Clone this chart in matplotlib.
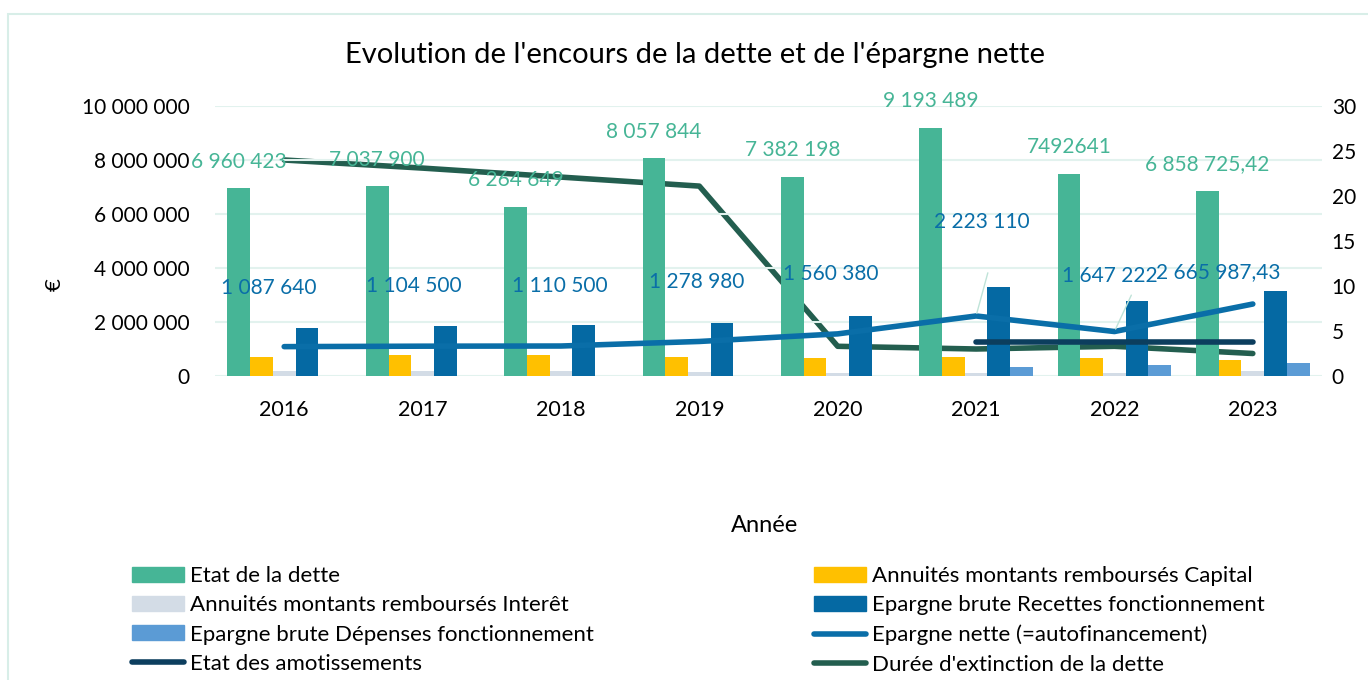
import matplotlib as mpl
from matplotlib import pyplot as plt
from matplotlib.lines import Line2D
from matplotlib.patches import Patch, Rectangle
import numpy as np

plt.rcParams['font.family'] = ['Lato', 'DejaVu Sans']

# %%
annees = ['2016', '2017', '2018', '2019', '2020', '2021', '2022', '2023']

# valeurs telles qu'affichées dans les étiquettes
dette_lbl = ['6 960 423', '7 037 900', '6 264 649', '8 057 844',
             '7 382 198', '9 193 489', '7492641', '6 858 725,42']
nette_lbl = ['1 087 640', '1 104 500', '1 110 500', '1 278 980',
             '1 560 380', '2 223 110', '1 647 222', '2 665 987,43']

capital = [712000, 760000, 785000, 712000, 650000, 690000, 675000, 610000]
interet = [184000, 184000, 170000, 160000, 125000, 125000, 125000, 190000]
recettes = [1790000, 1840000, 1880000, 1975000, 2210000, 3300000, 2790000, 3160000]
depenses = [0, 0, 0, 0, 0, 350000, 425000, 475000]

amortissements = [None, None, None, None, None, 1260000, 1260000, 1260000]
duree = [24.0, 23.1, 22.1, 21.1, 3.3, 3.0, 3.3, 2.5]


def num(s):
    return float(s.replace(' ', '').replace(',', '.'))

dette = [num(s) for s in dette_lbl]
nette = [num(s) for s in nette_lbl]

# %%
cVert = '#46B596'
cJaune = '#FFC000'
cGris = '#D3DCE6'
cBleu = '#0569A3'
cBleuClair = '#5B9BD5'
cNette = '#0A6EA8'
cAmort = '#0C3E5E'
cDuree = '#235E4F'
cGrille = '#E2F2EE'

fig = plt.figure(figsize=(13.68, 6.8), dpi=100)
ax = fig.add_axes([215 / 1368, 1 - 376 / 680, 1107 / 1368, 270 / 680])
ax2 = ax.twinx()

x = np.arange(len(annees))
w = 0.164
series = [(dette, cVert), (capital, cJaune), (interet, cGris),
          (recettes, cBleu), (depenses, cBleuClair)]
for i, (vals, col) in enumerate(series):
    ax.bar(x + (i - 2) * w, vals, w, color=col, zorder=3)

ax.plot(x, nette, color=cNette, lw=4, solid_capstyle='round', zorder=4)
am = np.array([np.nan if v is None else v for v in amortissements], dtype=float)
ax.plot(x, am, color=cAmort, lw=4, solid_capstyle='round', zorder=4)
ax2.plot(x, duree, color=cDuree, lw=4, solid_capstyle='round', zorder=4)

ax.set_xlim(-0.5, len(annees) - 0.5)
ax.set_ylim(0, 10000000)
ax2.set_ylim(0, 30)
ax.set_yticks(np.arange(0, 10000001, 2000000))
ax.set_yticklabels(['0' if v == 0 else '{:,}'.format(v).replace(',', ' ')
                    for v in range(0, 10000001, 2000000)])
ax2.set_yticks(np.arange(0, 31, 5))
ax.set_xticks(x)
ax.set_xticklabels(annees)

for a in (ax, ax2):
    for s in a.spines.values():
        s.set_visible(False)
    a.tick_params(length=0, labelsize=15, colors='black')
ax.tick_params(axis='y', pad=18)
ax.tick_params(axis='x', pad=17, labelsize=15.5)
ax2.tick_params(axis='y', pad=7)
ax.grid(axis='y', color=cGrille, lw=1.5, zorder=0)
ax.set_axisbelow(True)
ax2.set_zorder(ax.get_zorder() - 1)
ax.patch.set_visible(False)

# étiquettes de l'état de la dette
for i, v in enumerate(dette):
    ax.annotate(dette_lbl[i], xy=(x[i] - 2 * w, v), xytext=(0, 19),
                textcoords='offset points', ha='center', va='center',
                color=cVert, fontsize=15, zorder=6)

# étiquettes de l'épargne nette
decal = [(-11, 42), (-6, 43), (-1, 43), (-2, 43), (-5, 43), (4, 68), (-3, 40), (-25, 23)]
for i, v in enumerate(nette):
    dx, dy = decal[i]
    ax.annotate(nette_lbl[i], xy=(x[i], v), xytext=(dx, dy),
                textcoords='offset points', ha='center', va='center',
                color=cNette, fontsize=15, zorder=6)
for i, (dx, dy) in [(5, (9, 33)), (6, (13, 28))]:
    ax.annotate('', xy=(x[i], nette[i]), xytext=(dx, dy), textcoords='offset points',
                arrowprops=dict(arrowstyle='-', color='#BFE3D8', lw=1), zorder=5)

fig.text(695 / 1368, 1 - 55 / 680, "Evolution de l'encours de la dette et de l'épargne nette",
         ha='center', va='center', fontsize=21)
fig.text(55 / 1368, 1 - 285 / 680, '€', ha='center', va='center', rotation=90, fontsize=16)
fig.text(765 / 1368, 1 - 525 / 680, 'Année', ha='center', va='center', fontsize=17)

# légende sur deux colonnes
h = {
    'Etat de la dette': Patch(color=cVert),
    'Annuités montants remboursés Capital': Patch(color=cJaune),
    'Annuités montants remboursés Interêt': Patch(color=cGris),
    'Epargne brute Recettes fonctionnement': Patch(color=cBleu),
    'Epargne brute Dépenses fonctionnement': Patch(color=cBleuClair),
    'Epargne nette (=autofinancement)': Line2D([], [], color=cNette, lw=4, solid_capstyle='round'),
    'Etat des amotissements': Line2D([], [], color=cAmort, lw=4, solid_capstyle='round'),
    "Durée d'extinction de la dette": Line2D([], [], color=cDuree, lw=4, solid_capstyle='round'),
}
noms = list(h)
for col, x0 in [(0, 132), (1, 814)]:
    sel = noms[col::2]
    fig.legend([h[n] for n in sel], sel, loc='upper left',
               bbox_to_anchor=(x0 / 1368, 1 - 566 / 680), frameon=False,
               fontsize=16, handlelength=2.35, handleheight=0.65, handletextpad=0.25,
               labelspacing=0.42, borderpad=0, borderaxespad=0)

fig.patches.append(Rectangle((8 / 1368, -0.1), 1.2, 1 - 14 / 680 + 0.1,
                             transform=fig.transFigure, fill=False,
                             edgecolor='#D8EEE8', lw=1.5))

plt.savefig('out.png', dpi=100)
